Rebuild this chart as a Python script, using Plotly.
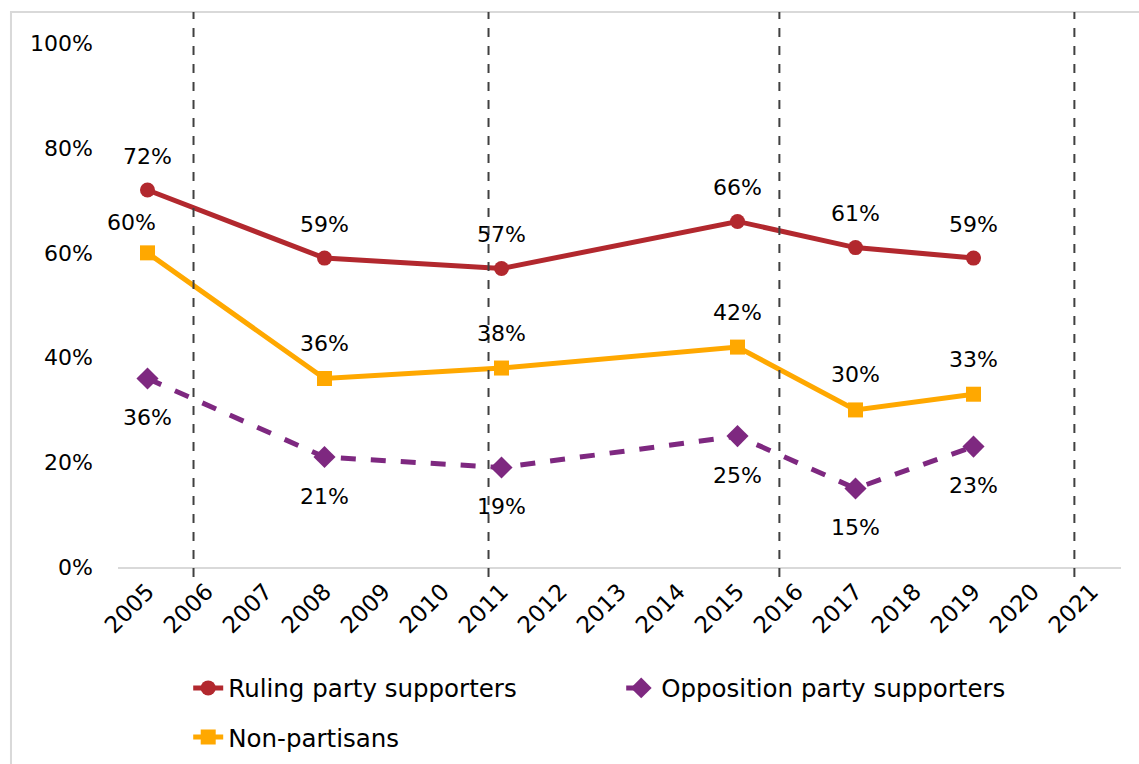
import plotly.graph_objects as go

# Survey years and shares of respondents (as fractions)
years = [2005, 2008, 2011, 2015, 2017, 2019]
ruling = [0.72, 0.59, 0.57, 0.66, 0.61, 0.59]
opposition = [0.36, 0.21, 0.19, 0.25, 0.15, 0.23]
nonpartisan = [0.60, 0.36, 0.38, 0.42, 0.30, 0.33]

axis_years = list(range(2005, 2022))
y_ticks = [0, 0.2, 0.4, 0.6, 0.8, 1.0]
y_tick_text = ["0%", "20%", "40%", "60%", "80%", "100%"]

# Election dates marked by dashed vertical lines
elections = [2005.78, 2010.78, 2015.71, 2020.71]

FONT = "DejaVu Sans"
RED = "#B2282E"
PURPLE = "#7E2880"
GOLD = "#FFA800"

fig = go.Figure()

fig.add_trace(go.Scatter(
    x=years, y=ruling, name="Ruling party supporters", mode="lines+markers",
    line=dict(color=RED, width=5), marker=dict(symbol="circle", size=15, color=RED),
    legend="legend",
))
fig.add_trace(go.Scatter(
    x=years, y=opposition, name="Opposition party supporters", mode="lines+markers",
    line=dict(color=PURPLE, width=5, dash="dash"),
    marker=dict(symbol="diamond", size=17, color=PURPLE),
    legend="legend",
))
fig.add_trace(go.Scatter(
    x=years, y=nonpartisan, name="Non-partisans", mode="lines+markers",
    line=dict(color=GOLD, width=5), marker=dict(symbol="square", size=15, color=GOLD),
    legend="legend2",
))

# Data labels
annotations = []
label_font = dict(family=FONT, size=22, color="#000000")
for x, v in zip(years, ruling):
    annotations.append(dict(x=x, y=v, text=f"{round(v*100)}%", showarrow=False,
                            yshift=34, font=label_font))
for i, (x, v) in enumerate(zip(years, nonpartisan)):
    annotations.append(dict(x=x, y=v, text=f"{round(v*100)}%", showarrow=False,
                            yshift=30 if i == 0 else 35, xshift=-16 if i == 0 else 0,
                            font=label_font))
for x, v in zip(years, opposition):
    annotations.append(dict(x=x, y=v, text=f"{round(v*100)}%", showarrow=False,
                            yshift=-39, font=label_font))

shapes = []
for e in elections:
    shapes.append(dict(type="line", xref="x", yref="paper", x0=e, x1=e, y0=-0.018, y1=1,
                       line=dict(color="#404040", width=2, dash="dash"), layer="above"))
# Chart frame
shapes.append(dict(type="rect", xref="paper", yref="paper", x0=-0.1067, x1=1.03,
                   y0=-0.4, y1=1.0, line=dict(color="#D9D9D9", width=2),
                   fillcolor="rgba(0,0,0,0)", layer="below"))

fig.update_layout(
    width=1139, height=764,
    margin=dict(l=118, r=18, t=12, b=197, autoexpand=False),
    paper_bgcolor="white", plot_bgcolor="white",
    font=dict(family=FONT, size=22, color="#000000"),
    showlegend=True,
    xaxis=dict(range=[2004.5, 2021.5], tickvals=axis_years, ticktext=[str(y) for y in axis_years],
               tickangle=-45, showgrid=False, zeroline=False, showline=True,
               linecolor="#D9D9D9", linewidth=2, ticks="", automargin=False,
               tickfont=dict(family=FONT, size=23)),
    yaxis=dict(range=[0, 1.06], tickvals=y_ticks, ticktext=y_tick_text, showgrid=False,
               zeroline=False, showline=False, ticks="", ticklabelstandoff=24,
               automargin=False, tickfont=dict(family=FONT, size=22)),
    legend=dict(orientation="h", x=0.07, y=0.0995, yref="container",
                xanchor="left", yanchor="middle",
                entrywidth=388, entrywidthmode="pixels",
                font=dict(family=FONT, size=24.5), bgcolor="rgba(0,0,0,0)"),
    legend2=dict(orientation="h", x=0.07, y=0.0353, yref="container",
                 xanchor="left", yanchor="middle",
                 font=dict(family=FONT, size=24.5), bgcolor="rgba(0,0,0,0)"),
    annotations=annotations,
    shapes=shapes,
)

fig.write_html("out.html")
